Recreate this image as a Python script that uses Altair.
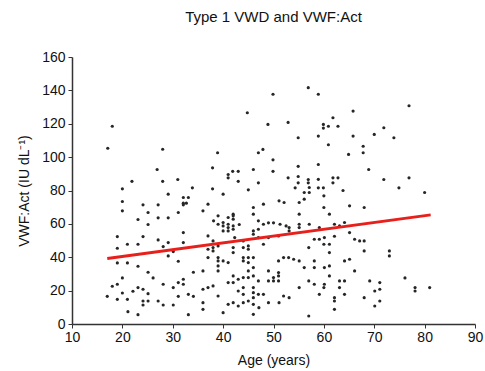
import altair as alt
import pandas as pd

# Age (years) and VWF:Act (IU/dL)
ages = [
    18.0, 17.1, 28.0, 26.9, 21.9, 28.0, 31.0, 20.0, 33.9,
    56.9, 49.9, 58.9, 44.8, 48.9, 52.9, 59.9, 59.9, 60.9, 54.9, 58.9, 60.9, 38.9, 47.9, 47.0, 49.9,
    37.9, 41.9, 43.0, 46.0, 49.9, 54.9, 58.9, 41.0, 41.0, 43.0, 47.0, 52.9, 54.9, 56.9, 56.9, 58.9,
    54.9, 37.9, 54.3, 58.9, 59.9, 45.0,
    76.9, 65.8, 61.8, 62.8, 71.9, 70.0, 73.9, 65.8, 67.8, 67.8, 64.9, 68.9, 61.8, 62.8, 61.8, 71.9,
    76.9, 74.9, 63.8,
    20.0, 20.0, 24.1, 27.1, 29.1, 25.1, 23.1, 25.1, 27.1, 29.1, 31.1, 32.1, 32.1, 32.7, 32.1, 33.1,
    19.0, 19.0, 21.0, 23.1, 24.1, 27.1, 29.1, 28.1, 29.1, 30.1, 32.1, 32.1,
    19.0, 21.0, 23.1, 31.1, 34.1, 25.1, 26.1, 20.0, 18.0, 19.0, 20.0, 22.1, 23.1, 24.1, 25.1, 28.1,
    30.1, 31.1, 32.1, 32.1, 33.1, 17.0, 19.0, 21.0, 24.1, 24.1, 25.1, 27.1, 28.1, 30.1, 31.1, 34.1,
    21.1, 23.1, 33.1,
    57.1, 40.0, 56.1, 57.1, 56.1, 55.1, 51.1, 52.1, 48.0, 46.0, 37.0, 36.0, 39.0, 41.0, 42.0, 42.0,
    38.1, 39.0, 40.0, 40.0, 41.0, 41.0, 42.0, 42.0, 43.2, 40.0, 41.0, 42.0, 46.0, 47.0, 48.0, 49.0,
    50.0, 46.0, 46.0, 47.0, 51.3, 52.5, 53.1, 53.1, 55.1, 55.1, 55.1, 57.1, 59.1, 61.1,
    37.0, 38.0, 39.0, 42.3, 44.0, 45.0, 47.0, 48.0, 49.0, 51.0, 58.1, 59.1, 60.1, 57.0,
    37.0, 38.0, 38.0, 37.0, 39.0, 39.0, 40.0, 41.0, 42.0, 42.0, 44.0, 45.0, 44.0, 44.0, 45.0, 46.0,
    45.0, 46.0, 45.0, 36.0, 39.0, 39.0, 51.0, 52.0, 53.0, 54.0, 55.1, 56.1, 58.1, 58.1, 60.1, 49.0,
    51.0, 51.0, 50.0, 50.0, 51.0, 42.0, 42.0, 43.0, 44.0, 45.0, 46.0, 47.0, 49.0, 41.0, 36.0, 37.0,
    38.0, 39.0, 43.0, 44.0, 44.0, 46.0, 46.0, 46.0, 47.0, 48.0, 52.0, 53.1, 55.1, 57.0, 58.1, 59.1,
    60.1, 36.0, 36.0, 41.0, 42.0, 43.0, 44.0, 45.0, 46.0, 47.1, 49.0, 51.1, 40.0, 46.0, 57.0,
    60.0, 80.0, 60.0, 65.1, 68.0, 62.1, 63.1, 64.1, 62.1, 65.1, 60.0, 61.1, 66.1, 67.1, 68.0, 61.1,
    68.0, 73.0, 73.0, 64.1, 65.1, 61.1, 66.1, 61.1, 76.1, 60.0, 63.1, 64.1, 63.1, 69.1, 71.1, 71.1,
    70.1, 78.1, 78.1, 81.0, 62.1, 62.1, 64.1, 68.0, 71.1, 70.1, 62.1,
]
vwf_act = [
    118.5, 105.3, 104.7, 92.6, 85.5, 85.5, 86.6, 81.0, 81.6,
    141.6, 137.7, 137.7, 126.6, 119.6, 120.8, 119.6, 117.4, 118.5, 111.6, 112.6, 107.4, 102.6, 104.6, 102.6, 98.4,
    93.6, 91.5, 91.5, 92.6, 91.5, 94.5, 95.6, 89.6, 87.6, 85.5, 84.6, 87.6, 88.4, 86.6, 84.6, 86.7,
    84.6, 81.0, 81.6, 81.6, 81.6, 80.4,
    130.8, 127.6, 123.6, 118.5, 117.6, 113.6, 111.6, 112.6, 106.5, 102.6, 101.6, 92.6, 87.6, 87.6, 84.6, 86.6,
    87.6, 81.6, 80.0,
    73.4, 67.8, 71.4, 71.4, 77.8, 66.8, 62.6, 59.6, 63.6, 63.6, 66.8, 75.8, 72.4, 72.4, 71.4, 75.8,
    52.4, 45.4, 47.8, 47.8, 52.4, 50.4, 48.8, 46.4, 40.8, 43.4, 54.8, 48.8,
    36.6, 36.6, 34.6, 37.6, 31.0, 31.0, 27.6, 27.6, 22.6, 23.8, 18.6, 19.6, 21.8, 20.8, 18.2, 23.8,
    21.8, 24.8, 26.8, 23.8, 17.8, 16.6, 14.8, 14.8, 13.8, 11.4, 13.8, 13.8, 11.4, 11.4, 16.6, 16.6,
    7.4, 5.6, 5.6,
    81.8, 77.8, 78.8, 78.8, 74.8, 72.8, 73.8, 72.8, 71.8, 69.8, 71.8, 67.8, 64.8, 63.8, 65.8, 64.8,
    61.8, 59.8, 60.8, 58.8, 59.8, 57.8, 62.8, 58.8, 59.6, 55.8, 55.8, 56.8, 65.8, 61.8, 59.8, 60.6,
    60.6, 55.8, 53.8, 56.8, 59.8, 58.8, 57.8, 55.8, 65.8, 59.8, 57.8, 59.8, 57.8, 65.8,
    52.8, 49.8, 46.8, 51.8, 49.8, 46.8, 51.8, 47.8, 51.8, 52.8, 50.8, 50.8, 51.8, 45.8,
    44.8, 45.8, 43.8, 39.8, 39.8, 37.8, 37.8, 36.8, 45.8, 42.8, 45.8, 44.8, 39.8, 37.8, 39.8, 39.8,
    36.8, 33.8, 31.8, 31.8, 34.8, 31.8, 37.8, 39.8, 39.8, 38.8, 37.8, 33.8, 37.8, 33.8, 33.8, 31.8,
    30.8, 28.8, 27.8, 25.8, 25.8, 28.8, 24.8, 26.8, 27.8, 27.8, 28.8, 25.8, 25.8, 24.8, 20.8, 21.8,
    22.8, 16.8, 19.8, 21.8, 17.8, 21.8, 18.8, 15.8, 17.8, 17.8, 16.8, 15.8, 21.8, 25.8, 23.8, 17.8,
    23.8, 12.8, 8.8, 11.8, 12.8, 10.8, 12.8, 13.8, 11.8, 9.8, 12.8, 12.8, 6.8, 5.8, 4.8,
    76.8, 78.8, 69.8, 70.8, 69.8, 59.8, 58.8, 60.8, 52.6, 54.8, 47.8, 47.8, 50.8, 49.8, 49.8, 42.8,
    43.8, 43.8, 40.8, 37.8, 38.8, 34.8, 31.8, 28.8, 27.6, 21.8, 25.8, 25.8, 21.8, 25.8, 24.8, 20.8,
    19.8, 21.8, 19.8, 21.8, 15.8, 13.8, 17.8, 15.8, 13.8, 10.8, 8.8,
]

# Fitted line end points
line_ages = [17.0, 81.2]
line_vals = [39.2, 65.4]

x_ticks = [10, 20, 30, 40, 50, 60, 70, 80, 90]
y_ticks = [0, 20, 40, 60, 80, 100, 120, 140, 160]

pts = pd.DataFrame({"age": ages, "vwf": vwf_act})
fit = pd.DataFrame({"age": line_ages, "vwf": line_vals})

FONT = "Liberation Sans"

xscale = alt.Scale(domain=[10, 90], nice=False, zero=False)
yscale = alt.Scale(domain=[0, 160], nice=False)

xaxis = alt.Axis(values=x_ticks, title="Age (years)", grid=False, tickSize=4,
                 labelPadding=2, titlePadding=9, labelOverlap=False, labelFlush=False)
yaxis = alt.Axis(values=y_ticks, title="VWF:Act (IU dL\u207b\u00b9)", grid=False, tickSize=4,
                 labelPadding=3, titlePadding=10, labelOverlap=False, labelFlush=False)

points = alt.Chart(pts).mark_circle(size=10, color="#262626", opacity=1).encode(
    x=alt.X("age:Q", scale=xscale, axis=xaxis),
    y=alt.Y("vwf:Q", scale=yscale, axis=yaxis),
)

line = alt.Chart(fit).mark_line(color="#e8201c", strokeWidth=3).encode(
    x=alt.X("age:Q", scale=xscale, axis=xaxis),
    y=alt.Y("vwf:Q", scale=yscale, axis=yaxis),
)

chart = alt.layer(points, line).properties(
    width=403,
    height=267,
    title=alt.TitleParams("Type 1 VWD and VWF:Act", font=FONT, fontSize=15,
                          fontWeight="normal", color="#111", offset=25),
    autosize=alt.AutoSizeParams(type="none"),
    padding={"left": 72, "top": 57, "right": 10, "bottom": 47},
).configure_view(stroke=None).configure_axis(
    labelFont=FONT, titleFont=FONT, labelFontSize=14, titleFontSize=14,
    titleFontWeight="normal", labelColor="#111", titleColor="#111",
    domainColor="#333", domainWidth=1.5, tickColor="#333", tickWidth=1,
)

chart.save("out.html", embed_options={"renderer": "svg", "actions": False})
